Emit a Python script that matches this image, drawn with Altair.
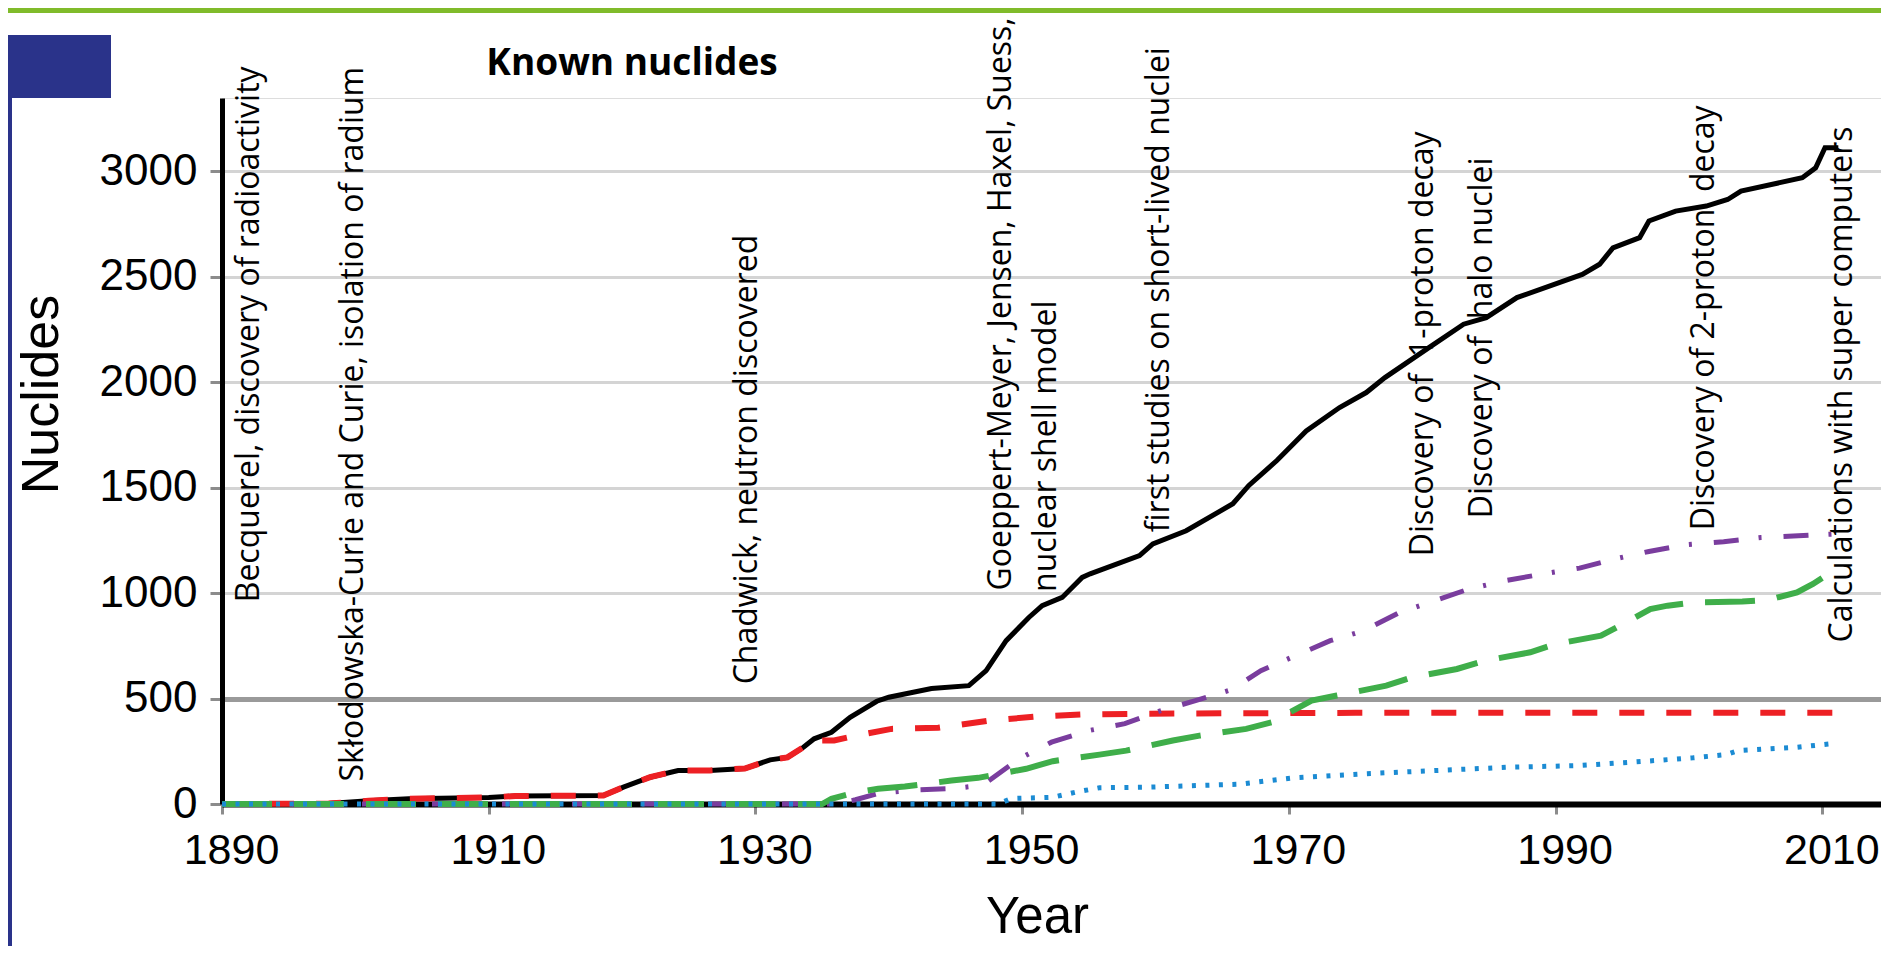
import altair as alt
import pandas as pd

# ---------------- data ----------------
x_ticks = [1890, 1910, 1930, 1950, 1970, 1990, 2010]
y_ticks = [0, 500, 1000, 1500, 2000, 2500, 3000]

black_years = [1890, 1898, 1901, 1904, 1910, 1912, 1918.6, 1920.1, 1922.1, 1924.2, 1926.6, 1929.2,
               1931.1, 1932.4, 1933.6, 1934.4, 1935.7, 1937.1, 1939.1, 1940.0, 1943.2, 1946.0,
               1947.3, 1948.8, 1950.5, 1951.5, 1953.0, 1954.5, 1955.1, 1958.8, 1959.8, 1962.3,
               1965.8, 1967.0, 1969.1, 1971.3, 1973.8, 1975.8, 1977.2, 1980.5, 1983.1, 1984.8,
               1987.1, 1992.0, 1993.3, 1994.3, 1996.3, 1997.0, 1999.0, 2001.3, 2002.9, 2003.9,
               2008.5, 2009.5, 2010.2, 2011.2]
black_vals = [0, 2, 15, 25, 31, 38, 40, 80, 127, 159, 159, 168,
              209, 221, 269, 309, 340, 411, 487, 506, 547, 561,
              632, 774, 884, 940, 979, 1074, 1091, 1177, 1233, 1295,
              1423, 1510, 1628, 1768, 1879, 1950, 2021, 2163, 2274, 2305,
              2400, 2510, 2558, 2636, 2684, 2763, 2810, 2834, 2865, 2905,
              2968, 3015, 3110, 3110]

red_years = [1890, 1898, 1901, 1904, 1910, 1912, 1918.6, 1920.1, 1922.1, 1924.2, 1926.6, 1929.2,
             1931.1, 1932.4, 1933.6, 1934.5, 1935.9, 1937.6, 1940.2, 1943.7, 1947.5, 1951.0,
             1954.5, 1958.0, 1965.3, 1975.0, 2011.0]
red_vals = [0, 2, 15, 25, 31, 38, 40, 80, 127, 159, 159, 168,
            209, 221, 269, 300, 301, 325, 356, 361, 395, 414,
            424, 427, 430, 432, 432]

purple_years = [1890, 1936.0, 1937.5, 1939.2, 1942.0, 1944.7, 1947.0, 1949.8, 1952.2, 1955.0,
                1957.7, 1960.3, 1963.0, 1965.7, 1967.9, 1973.1, 1975.6, 1978.3, 1980.9, 1983.5,
                1986.2, 1989.0, 1991.8, 1994.4, 1997.0, 1999.8, 2002.6, 2005.4, 2008.2, 2010.7]
purple_vals = [0, 0, 20, 50, 67, 73, 88, 215, 293, 348,
               381, 440, 490, 542, 632, 774, 821, 908, 963, 1019,
               1058, 1090, 1118, 1161, 1197, 1229, 1243, 1263, 1271, 1279]

green_years = [1890, 1935.0, 1935.7, 1937.5, 1939.2, 1941.2, 1944.7, 1946.7, 1950.3, 1952.3,
               1955.8, 1957.8, 1961.3, 1963.3, 1966.8, 1968.7, 1971.7, 1973.6, 1977.3, 1979.2,
               1982.6, 1984.7, 1988.1, 1990.0, 1993.4, 1995.3, 1997.1, 1998.4, 2000.3, 2004.0,
               2005.9, 2008.1, 2009.3, 2010.9]
green_vals = [0, 0, 25, 55, 72, 83, 111, 124, 167, 203,
              234, 253, 301, 324, 356, 387, 490, 514, 561, 600,
              640, 679, 719, 758, 798, 861, 924, 940, 955, 960,
              967, 1003, 1043, 1109]

blue_years = [1890, 1948.2, 1949.2, 1952.3, 1954.0, 1955.8, 1959.5, 1966.3, 1970.3, 1975.6,
              1981.1, 1986.4, 1991.7, 1995.7, 2000.3, 2002.8, 2003.7, 2008.1, 2010.6]
blue_vals = [0, 0, 26, 32, 56, 77, 80, 94, 124, 143,
             159, 174, 182, 198, 219, 234, 253, 269, 285]

ann_text = ["Becquerel, discovery of radioactivity",
            "Skłodowska-Curie and Curie, isolation of radium",
            "Chadwick, neutron discovered",
            "Goeppert-Meyer, Jensen, Haxel, Suess,",
            "nuclear shell model",
            "first studies on short-lived nuclei",
            "Discovery of\u00a0 1-proton decay",
            "Discovery of\u00a0 halo nuclei",
            "Discovery of 2-proton\u00a0 decay",
            "Calculations with super computers"]
ann_years = [1892.8, 1900.6, 1930.1, 1949.2, 1952.5, 1961.0, 1980.8, 1985.2, 2001.9, 2012.2]
ann_vals = [956, 107, 567, 1012, 1005, 1288, 1174, 1354, 1297, 766]

chart_title = "Known nuclides"

# ---------------- chart ----------------
W, H = 1659, 706

x_enc = alt.X("year:Q",
              scale=alt.Scale(domain=[1890, 2014.4], nice=False, zero=False),
              axis=alt.Axis(values=x_ticks, format="d", title="Year",
                            labelFont="Liberation Sans", labelFontSize=43, labelColor="black",
                            labelPadding=15, labelOffset=9, tickSize=10, tickWidth=3,
                            tickColor="#8c8c8c", domainColor="black", domainWidth=6,
                            grid=False, labelFlush=False,
                            titleFont="Liberation Sans", titleFontSize=51,
                            titleFontWeight="normal", titleColor="black",
                            titleX=815, titleY=128, titleAlign="center",
                            titleBaseline="alphabetic", titleAnchor="start"))

y_enc = alt.Y("nuclides:Q",
              scale=alt.Scale(domain=[0, 3346], nice=False),
              axis=alt.Axis(values=y_ticks, format="d", title="Nuclides",
                            labelFont="Liberation Sans", labelFontSize=44, labelColor="black",
                            labelPadding=13, tickSize=12, tickWidth=3, tickColor="#8c8c8c",
                            domainColor="black", domainWidth=5,
                            grid=True,
                            gridColor={"condition": {"test": "datum.value === 500", "value": "#9a9a9a"},
                                       "value": "#d4d4d4"},
                            gridWidth={"condition": {"test": "datum.value === 500", "value": 5},
                                       "value": 3},
                            gridOpacity={"condition": {"test": "datum.value === 0", "value": 0},
                                         "value": 1},
                            labelFlush=False,
                            titleFont="Liberation Sans", titleFontSize=52,
                            titleFontWeight="normal", titleColor="black",
                            titleAngle=270, titleX=-165, titleY=296, titleAlign="center",
                            titleBaseline="alphabetic", titleAnchor="start"))


def series(years, vals):
    return pd.DataFrame({"year": years, "nuclides": vals})


black = alt.Chart(series(black_years, black_vals)).mark_line(
    color="black", strokeWidth=5).encode(x=x_enc, y=y_enc)
red = alt.Chart(series(red_years, red_vals)).mark_line(
    color="#ed2024", strokeWidth=6, strokeDash=[25, 22], strokeCap="butt").encode(x=x_enc, y=y_enc)
purple = alt.Chart(series(purple_years, purple_vals)).mark_line(
    color="#7a3d9e", strokeWidth=5, strokeDash=[25, 20, 3, 22], strokeCap="butt").encode(x=x_enc, y=y_enc)
green = alt.Chart(series(green_years, green_vals)).mark_line(
    color="#3fae4a", strokeWidth=6, strokeDash=[50, 22], strokeCap="butt").encode(x=x_enc, y=y_enc)
blue = alt.Chart(series(blue_years, blue_vals)).mark_line(
    color="#1b8bd3", strokeWidth=5, strokeDash=[4, 9.5], strokeCap="butt").encode(x=x_enc, y=y_enc)

ann = alt.Chart(pd.DataFrame({"year": ann_years, "nuclides": ann_vals, "label": ann_text})).mark_text(
    angle=270, align="left", baseline="alphabetic", font="Open Sans", fontSize=32, color="black"
).encode(x=x_enc, y=y_enc, text="label:N")

dummy = pd.DataFrame({"k": [0]})
title_mark = alt.Chart(dummy).mark_text(
    text=chart_title, font="Open Sans", fontSize=37, fontWeight="bold", color="black",
    align="center", baseline="alphabetic").encode(x=alt.value(410), y=alt.value(-23))
green_bar = alt.Chart(dummy).mark_rule(color="#80bb2a", strokeWidth=5).encode(
    x=alt.value(-214), x2=alt.value(W), y=alt.value(-87.5))
blue_box = alt.Chart(dummy).mark_rect(color="#2a338a").encode(
    x=alt.value(-214), x2=alt.value(-111), y=alt.value(-63), y2=alt.value(0))
blue_strip = alt.Chart(dummy).mark_rule(color="#2a338a", strokeWidth=4).encode(
    x=alt.value(-212), y=alt.value(0), y2=alt.value(H + 142))

chart = alt.layer(
    green_bar, blue_box, blue_strip, title_mark, black, red, purple, green, blue, ann
).properties(
    width=W, height=H,
    padding={"left": 214, "top": 90, "right": 0, "bottom": 142},
    autosize="none",
).configure_view(stroke=None).configure(background="white")

chart.save("out.html", embed_options={"renderer": "svg", "actions": False})
